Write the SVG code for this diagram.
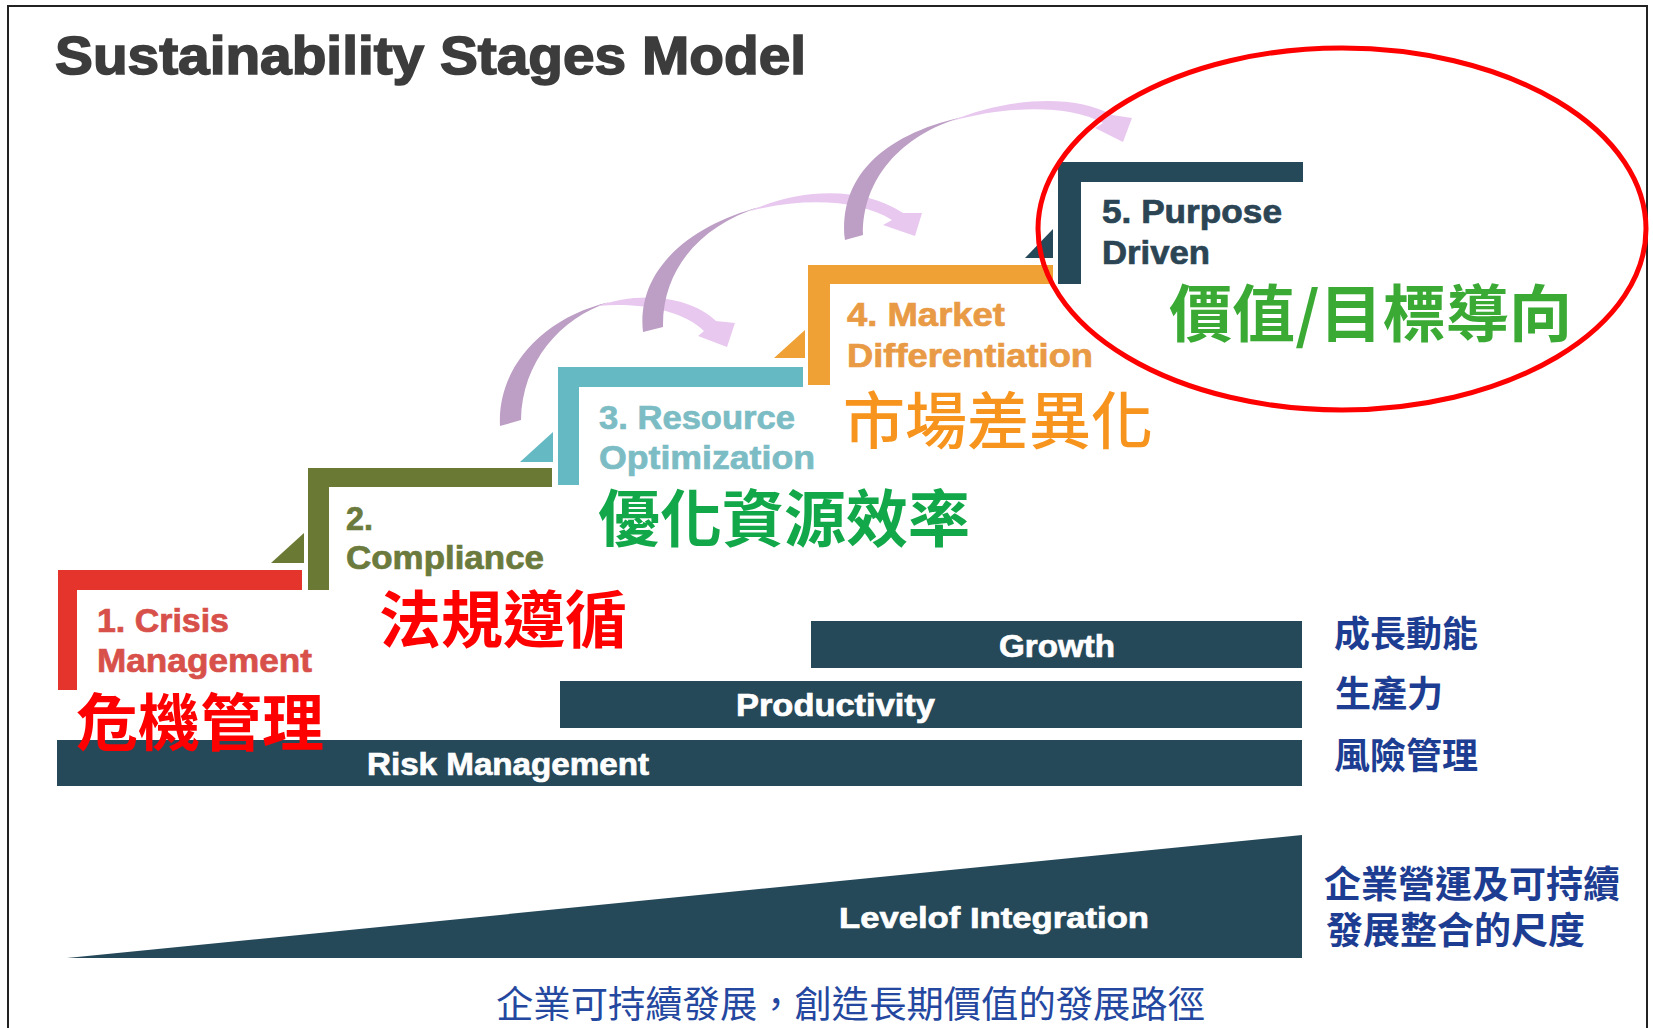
<svg xmlns="http://www.w3.org/2000/svg" width="1653" height="1028" viewBox="0 0 1653 1028">
<defs>
<style>
.en{font-family:"Liberation Sans",Arial,sans-serif;font-weight:700;}
.lbl{font-size:33px;stroke-width:0.7px;}
.bar{fill:#26495a;}
.bartxt{fill:#ffffff;font-size:31px;stroke:#ffffff;stroke-width:0.7px;}
.cjk{font-family:"Noto Sans CJK TC","Noto Sans CJK SC",sans-serif;}
.big{font-size:62px;font-weight:700;}
.side{font-size:36px;font-weight:700;fill:#1d3d92;}
.dark{fill:#bd9ec5;}
.light{fill:#e9c8f0;}
</style>
</defs>
<rect x="0" y="0" width="1653" height="1028" fill="#ffffff"/>
<path d="M8,1028 V6 H1647 V1028" fill="none" stroke="#222222" stroke-width="2"/>
<text id="title" class="en" x="55" y="74" font-size="54" fill="#3c3c3c" stroke="#3c3c3c" stroke-width="1.6" textLength="751" lengthAdjust="spacingAndGlyphs">Sustainability Stages Model</text>

<g id="growth">
<rect class="bar" x="811" y="621" width="491" height="47"/>
<text class="en bartxt" x="999" y="657" textLength="116" lengthAdjust="spacingAndGlyphs">Growth</text>
<text class="cjk side" x="1334" y="647">成長動能</text>
</g>
<g id="productivity">
<rect class="bar" x="560" y="681" width="742" height="47"/>
<text class="en bartxt" x="736" y="716" textLength="199" lengthAdjust="spacingAndGlyphs">Productivity</text>
<text class="cjk side" x="1335" y="707">生產力</text>
</g>
<g id="risk">
<rect class="bar" x="57" y="740" width="1245" height="46"/>
<text class="en bartxt" x="367" y="775" textLength="282" lengthAdjust="spacingAndGlyphs">Risk Management</text>
<text class="cjk side" x="1334" y="769">風險管理</text>
</g>
<g id="integration">
<path class="bar" d="M67,958 L1302,835 L1302,958 Z"/>
<text class="en bartxt" x="839" y="928" style="font-size:30px" textLength="310" lengthAdjust="spacingAndGlyphs">Levelof Integration</text>
<text class="cjk side" x="1324" y="898" style="font-size:37px">企業營運及可持續</text>
<text class="cjk side" x="1326" y="944" style="font-size:37px">發展整合的尺度</text>
</g>

<g id="connectors">
<g id="arrow1">
<path class="dark" d="M500,426 C497,370 540,318 610,302 C560,318 522,362 521,420 Z"/>
<path class="light" d="M598,306 C635,292 688,294 716,321 L735,323 L727,347 L698,336 L704,331 C682,310 640,302 598,306 Z"/>
</g>
<g id="arrow2">
<path class="dark" d="M643,332 C636,270 690,225 760,207 C702,225 662,268 663,327 Z"/>
<path class="light" d="M750,211 C800,188 862,186 903,213 L922,213 L915,236 L883,225 L892,220 C860,200 805,197 750,211 Z"/>
</g>
<g id="arrow3">
<path class="dark" d="M845,240 C838,180 880,135 963,117 C900,135 862,180 863,235 Z"/>
<path class="light" d="M952,121 C1000,100 1070,92 1112,115 L1132,118 L1123,142 L1095,128 L1103,123 C1068,104 1005,106 952,121 Z"/>
</g>
</g>

<g id="stage1">
<path d="M58,570 H302 V590 H77 V690 H58 Z" fill="#e5342b"/>
<text class="en lbl" x="97" y="632" fill="#d8504a" stroke="#d8504a" textLength="132" lengthAdjust="spacingAndGlyphs">1. Crisis</text>
<text class="en lbl" x="97" y="672" fill="#d8504a" stroke="#d8504a" textLength="215" lengthAdjust="spacingAndGlyphs">Management</text>
<text class="cjk big" x="76" y="746" fill="#ff0000">危機管理</text>
</g>
<g id="stage2">
<path d="M271,563 L304,533 L304,563 Z" fill="#6a7933"/>
<path d="M308,468 H552 V487 H329 V590 H308 Z" fill="#6a7933"/>
<text class="en lbl" x="346" y="530" fill="#6b7a3d" stroke="#6b7a3d" textLength="27" lengthAdjust="spacingAndGlyphs">2.</text>
<text class="en lbl" x="346" y="569" fill="#6b7a3d" stroke="#6b7a3d" textLength="198" lengthAdjust="spacingAndGlyphs">Compliance</text>
<text class="cjk big" x="379" y="643" fill="#ff0000">法規遵循</text>
</g>
<g id="stage3">
<path d="M520,462 L553,432 L553,462 Z" fill="#64b9c3"/>
<path d="M558,367 H803 V387 H579 V485 H558 Z" fill="#64b9c3"/>
<text class="en lbl" x="599" y="429" fill="#7cbcc4" stroke="#7cbcc4" textLength="196" lengthAdjust="spacingAndGlyphs">3. Resource</text>
<text class="en lbl" x="599" y="469" fill="#7cbcc4" stroke="#7cbcc4" textLength="216" lengthAdjust="spacingAndGlyphs">Optimization</text>
<text class="cjk big" x="598" y="542" fill="#12a84a">優化資源效率</text>
</g>
<g id="stage4">
<path d="M774,358 L805,330 L805,358 Z" fill="#f0a136"/>
<path d="M808,265 H1053 V284 H830 V385 H808 Z" fill="#f0a136"/>
<text class="en lbl" x="847" y="326" fill="#e99a45" stroke="#e99a45" textLength="158" lengthAdjust="spacingAndGlyphs">4. Market</text>
<text class="en lbl" x="847" y="367" fill="#e99a45" stroke="#e99a45" textLength="246" lengthAdjust="spacingAndGlyphs">Differentiation</text>
<text class="cjk" x="843" y="444" font-size="62" font-weight="500" fill="#f7941d">市場差異化</text>
</g>
<g id="stage5">
<path d="M1025,258 L1053,229 L1053,258 Z" fill="#26495a"/>
<path d="M1058,162 H1303 V182 H1081 V284 H1058 Z" fill="#26495a"/>
<text class="en lbl" x="1102" y="223" fill="#2b4554" stroke="#2b4554" textLength="180" lengthAdjust="spacingAndGlyphs">5. Purpose</text>
<text class="en lbl" x="1102" y="264" fill="#2b4554" stroke="#2b4554" textLength="108" lengthAdjust="spacingAndGlyphs">Driven</text>
<ellipse cx="1342" cy="229" rx="304" ry="181" fill="none" stroke="#ff0000" stroke-width="5"/>
<text class="cjk big" x="1169" y="337" fill="#3aaa35" textLength="403" lengthAdjust="spacingAndGlyphs">價值/目標導向</text>
</g>

<text id="caption" class="cjk" x="496" y="1018" font-size="37" fill="#2447a0" textLength="709" lengthAdjust="spacingAndGlyphs">企業可持續發展，創造長期價值的發展路徑</text>
</svg>
